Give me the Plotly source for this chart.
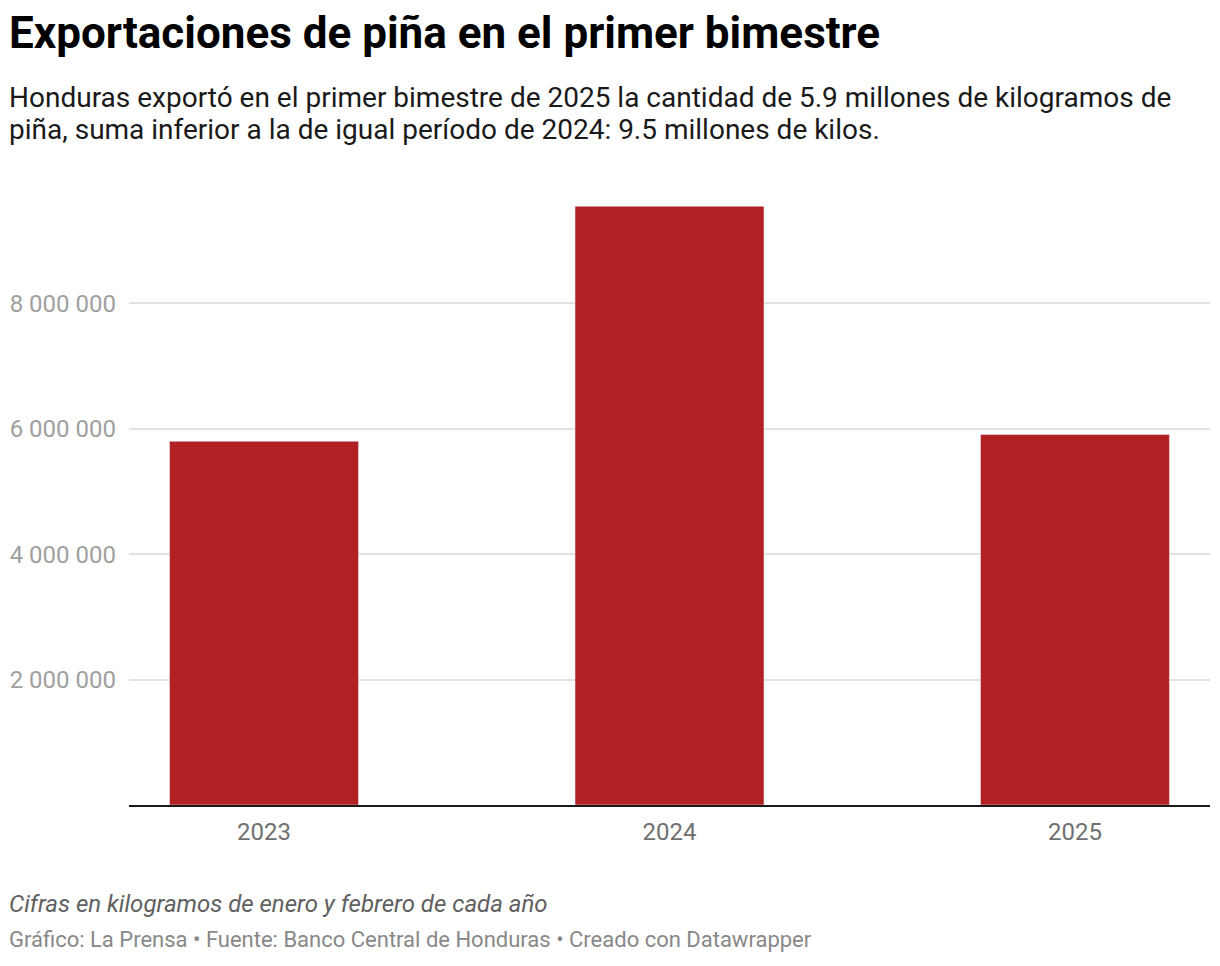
import plotly.graph_objects as go

years = ["2023", "2024", "2025"]
kilos = [5800000, 9550000, 5910000]
tick_values = [2000000, 4000000, 6000000, 8000000]
tick_labels = ["2 000 000", "4 000 000", "6 000 000", "8 000 000"]

title = "Exportaciones de piña en el primer bimestre"
subtitle_lines = [
    "Honduras exportó en el primer bimestre de 2025 la cantidad de 5.9 millones de kilogramos de",
    "piña, suma inferior a la de igual período de 2024: 9.5 millones de kilos.",
]
note = "Cifras en kilogramos de enero y febrero de cada año"
credit = "Gráfico: La Prensa • Fuente: Banco Central de Honduras • Creado con Datawrapper"

OFF = 8  # browser body margin
W, H = 1212, 958
L, R = 129 - OFF, 10
T = 200 - OFF
B = H - (805.5 - OFF)
pw = W - L - R
ph = H - T - B

def px(xpage):
    return (xpage - OFF - L) / pw

def py(ypage):
    return 1 - (ypage - OFF - T) / ph

fig = go.Figure(go.Bar(
    x=years, y=kilos, marker_color="#b12124", width=0.466,
    hoverinfo="x+y",
))

def txt(text, xpage, ypage, size, color):
    return dict(text=text, x=px(xpage), y=py(ypage), xref="paper", yref="paper",
                xanchor="left", yanchor="middle", showarrow=False, align="left",
                font=dict(size=size, color=color, family="Roboto"))

fig.update_layout(
    width=W, height=H,
    margin=dict(l=L, r=R, t=T, b=B, pad=0, autoexpand=False),
    paper_bgcolor="white", plot_bgcolor="white",
    font=dict(family="Roboto", color="#333"),
    showlegend=False,
    xaxis=dict(
        type="category", range=[-0.333, 2.333],
        showline=True, linecolor="#1a1a1a", linewidth=2,
        showgrid=False, ticks="", automargin=False,
        ticklabelstandoff=4,
        tickfont=dict(size=24, color="#707070", family="Roboto"),
        fixedrange=True,
    ),
    yaxis=dict(
        range=[0, 9.65e6],
        tickvals=tick_values, ticktext=tick_labels,
        showgrid=True, gridcolor="#e2e2e2", gridwidth=1.5,
        zeroline=False, showline=False, ticks="", automargin=False,
        ticklabelstandoff=12,
        tickfont=dict(size=24, color="#a0a0a0", family="Roboto"),
        fixedrange=True,
    ),
    annotations=[
        txt("<b>" + title + "</b>", 7, 33, 44, "#000"),
        txt(subtitle_lines[0], 7, 97, 28, "#1a1a1a"),
        txt(subtitle_lines[1], 7, 129, 28, "#1a1a1a"),
        txt("<i>" + note + "</i>", 7, 905, 24, "#606060"),
        txt(credit, 7, 940, 22, "#888888"),
    ],
)

fig.write_html("out.html")
